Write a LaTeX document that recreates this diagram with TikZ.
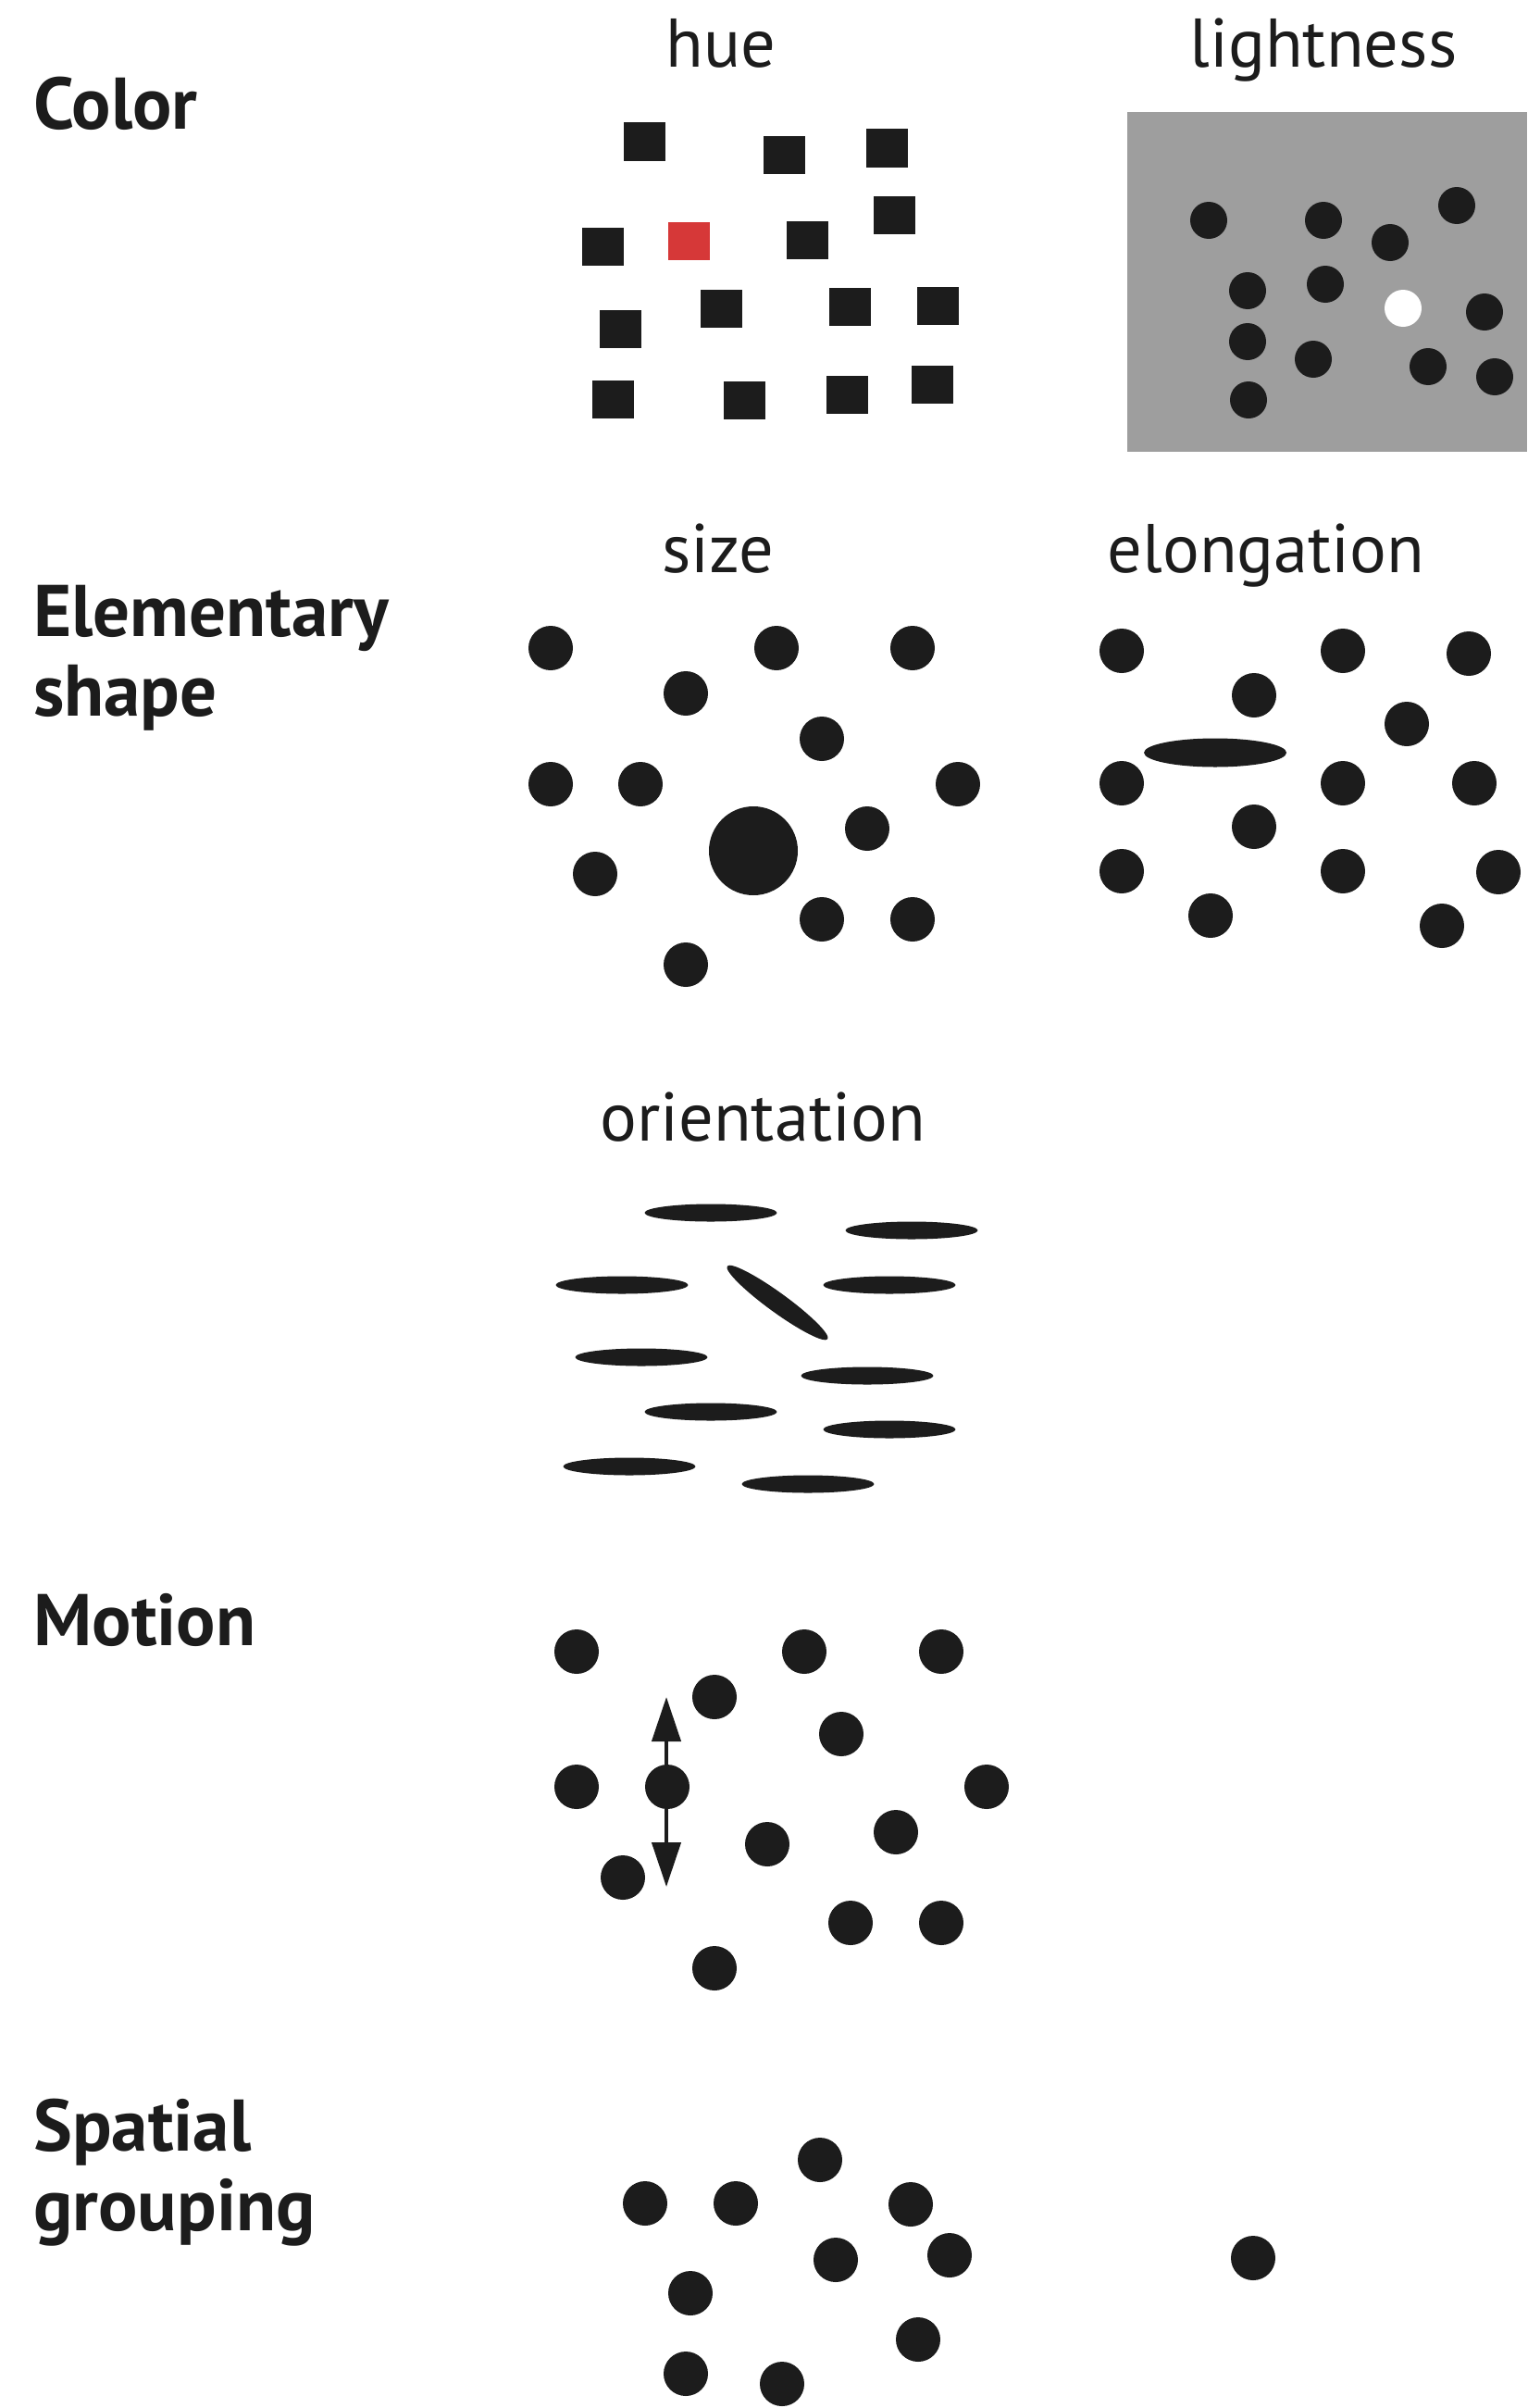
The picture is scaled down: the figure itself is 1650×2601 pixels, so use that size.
\documentclass[tikz,border=0pt]{standalone}
\usepackage{fontspec}
\setmainfont{PT Sans}
\usetikzlibrary{shapes.geometric,arrows.meta}
\definecolor{ink}{RGB}{28,28,28}
\definecolor{bgray}{RGB}{158,158,158}
\definecolor{hred}{RGB}{214,56,56}
\tikzset{
  cat/.style={anchor=base west,inner sep=0pt,text=ink,font=\fontsize{39.5}{43}\selectfont\bfseries},
  sub/.style={anchor=base,inner sep=0pt,text=ink,font=\fontsize{37.2}{44}\selectfont},
  sq/.style={rectangle,fill=ink,inner sep=0pt,minimum width=22.5pt,minimum height=20.5pt},
  sqred/.style={sq,fill=hred},
  dotS/.style={circle,fill=ink,inner sep=0pt,minimum size=20pt},
  dotW/.style={dotS,fill=white},
  dotM/.style={circle,fill=ink,inner sep=0pt,minimum size=24pt},
  dotBig/.style={circle,fill=ink,inner sep=0pt,minimum size=48pt},
  bar/.style={ellipse,fill=ink,inner sep=0pt,minimum width=71.5pt,minimum height=9.5pt},
  longbar/.style={ellipse,fill=ink,inner sep=0pt,minimum width=77pt,minimum height=15.5pt},
  motionarrow/.style={draw=ink,line width=2.15pt,{Triangle[length=24pt,width=15.5pt]}-{Triangle[length=24pt,width=15.5pt]}}
}
\begin{document}
\begin{tikzpicture}[x=0.5pt,y=-0.5pt]
\useasboundingbox[fill=white] (0,0) rectangle (1650,2601);

% ---------- labels ----------
\node[cat] (lColor) at (36,140) {Color};
\node[cat] (lElem1) at (36,687) {Elementary};
\node[cat] (lElem2) at (36,773) {shape};
\node[cat] (lMotion) at (36,1777) {Motion};
\node[cat] (lSpat1) at (36,2323) {Spatial};
\node[cat] (lSpat2) at (36,2409) {grouping};

\node[sub] (lHue) at (779,73) {hue};
\node[sub] (lLight) at (1430,73) {lightness};
\node[sub] (lSize) at (776,618) {size};
\node[sub] (lElong) at (1368,618) {elongation};
\node[sub] (lOrient) at (824,1232) {orientation};

% ---------- hue ----------
\node[sq] (h1) at (696,153) {};
\node[sq] (h2) at (847,167) {};
\node[sq] (h3) at (958,160) {};
\node[sq] (h4) at (966,232) {};
\node[sq] (h5) at (651,266) {};
\node[sqred] (h6) at (744,260) {};
\node[sq] (h7) at (872,259) {};
\node[sq] (h8) at (670,355) {};
\node[sq] (h9) at (779,333) {};
\node[sq] (h10) at (918,331) {};
\node[sq] (h11) at (1013,330) {};
\node[sq] (h12) at (662,431) {};
\node[sq] (h13) at (804,432) {};
\node[sq] (h14) at (915,426) {};
\node[sq] (h15) at (1007,415) {};

% ---------- lightness ----------
\fill[bgray] (1218,121) rectangle (1650,488);
\node[dotS] (l1) at (1306,238) {};
\node[dotS] (l2) at (1430,238) {};
\node[dotS] (l3) at (1574,222) {};
\node[dotS] (l4) at (1502,262) {};
\node[dotS] (l5) at (1348,314) {};
\node[dotS] (l6) at (1432,307) {};
\node[dotW] (l7) at (1516,333) {};
\node[dotS] (l8) at (1604,337) {};
\node[dotS] (l9) at (1348,369) {};
\node[dotS] (l10) at (1419,388) {};
\node[dotS] (l11) at (1543,396) {};
\node[dotS] (l12) at (1615,407) {};
\node[dotS] (l13) at (1349,432) {};

% ---------- size ----------
\node[dotM] (s1) at (595,700) {};
\node[dotM] (s2) at (839,700) {};
\node[dotM] (s3) at (986,700) {};
\node[dotM] (s4) at (741,749) {};
\node[dotM] (s5) at (888,798) {};
\node[dotM] (s6) at (595,847) {};
\node[dotM] (s7) at (692,847) {};
\node[dotM] (s8) at (1035,847) {};
\node[dotBig] (s9) at (814,919) {};
\node[dotM] (s10) at (937,895) {};
\node[dotM] (s11) at (643,944) {};
\node[dotM] (s12) at (888,993) {};
\node[dotM] (s13) at (986,993) {};
\node[dotM] (s14) at (741,1042) {};

% ---------- elongation ----------
\node[dotM] (e1) at (1212,703) {};
\node[dotM] (e2) at (1451,703) {};
\node[dotM] (e3) at (1587,706) {};
\node[dotM] (e4) at (1355,751) {};
\node[dotM] (e5) at (1520,782) {};
\node[longbar] (e6) at (1313,813) {};
\node[dotM] (e7) at (1212,846) {};
\node[dotM] (e8) at (1451,846) {};
\node[dotM] (e9) at (1593,846) {};
\node[dotM] (e10) at (1355,893) {};
\node[dotM] (e11) at (1212,941) {};
\node[dotM] (e12) at (1451,941) {};
\node[dotM] (e13) at (1619,942) {};
\node[dotM] (e14) at (1308,989) {};
\node[dotM] (e15) at (1558,1000) {};

% ---------- orientation ----------
\node[bar] (o1) at (768,1310) {};
\node[bar] (o2) at (985,1329) {};
\node[bar] (o3) at (672,1388) {};
\node[bar] (o4) at (961,1388) {};
\node[bar,minimum width=67pt,minimum height=10.5pt,rotate=-36] (o5) at (840,1407) {};
\node[bar] (o6) at (693,1466) {};
\node[bar] (o7) at (937,1486) {};
\node[bar] (o8) at (768,1525) {};
\node[bar] (o9) at (961,1544) {};
\node[bar] (o10) at (680,1584) {};
\node[bar] (o11) at (873,1603) {};

% ---------- motion ----------
\node[dotM] (m1) at (623,1784) {};
\node[dotM] (m2) at (869,1784) {};
\node[dotM] (m3) at (1017,1784) {};
\node[dotM] (m4) at (772,1833) {};
\node[dotM] (m5) at (909,1873) {};
\node[dotM] (m6) at (623,1930) {};
\node[dotM] (m7) at (721,1930) {};
\node[dotM] (m8) at (1066,1930) {};
\node[dotM] (m9) at (829,1992) {};
\node[dotM] (m10) at (968,1979) {};
\node[dotM] (m11) at (673,2028) {};
\node[dotM] (m12) at (919,2077) {};
\node[dotM] (m13) at (1017,2077) {};
\node[dotM] (m14) at (772,2126) {};
\coordinate (mtop) at (720,1833);
\coordinate (mbot) at (720,2038);
\draw[motionarrow] (mtop) -- (mbot);

% ---------- spatial grouping ----------
\node[dotM] (g1) at (886,2333) {};
\node[dotM] (g2) at (697,2380) {};
\node[dotM] (g3) at (795,2380) {};
\node[dotM] (g4) at (984,2381) {};
\node[dotM] (g5) at (903,2441) {};
\node[dotM] (g6) at (1026,2436) {};
\node[dotM] (g7) at (1354,2439) {};
\node[dotM] (g8) at (746,2477) {};
\node[dotM] (g9) at (992,2527) {};
\node[dotM] (g10) at (741,2564) {};
\node[dotM] (g11) at (845,2575) {};
\end{tikzpicture}
\end{document}
